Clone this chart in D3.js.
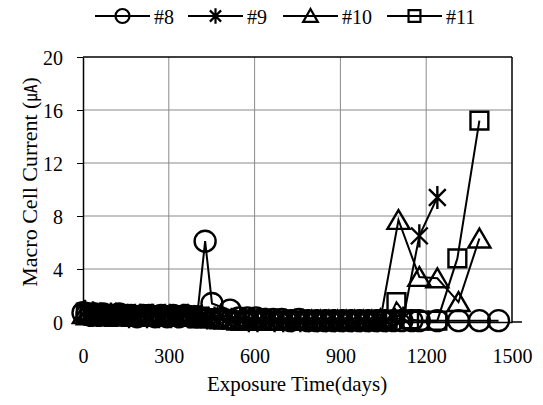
<!DOCTYPE html>
<html>
<head>
<meta charset="utf-8">
<script src="https://cdn.jsdelivr.net/npm/d3@7"></script>
<style>
  html, body { margin: 0; padding: 0; background: #fff; }
  svg { display: block; }
  svg text { font-family: "Liberation Serif", "Tinos", "Times New Roman", "DejaVu Serif", "Noto Serif", serif; fill: #000; }
</style>
</head>
<body>
<svg id="chart" width="543" height="405"></svg>
<script>
// ---------------- data ----------------
const xTicks = [0, 300, 600, 900, 1200, 1500];
const yTicks = [0, 4, 8, 12, 16, 20];
const seriesNames = ["#8", "#9", "#10", "#11"];

// [exposure day, macro cell current]
const s8 = [[0,0.7],[14,0.6],[28,0.5],[42,0.6],[56,0.5],[70,0.6],[84,0.5],[105,0.5],[126,0.6],[147,0.5],
  [168,0.5],[189,0.4],[210,0.5],[231,0.5],[252,0.4],[273,0.5],[294,0.4],[315,0.5],[336,0.4],[357,0.5],
  [378,0.4],[399,0.4],[427,6.1],[451,1.4],[514,0.9],[545,0.3],[575,0.3],[605,0.3],[635,0.2],[665,0.2],
  [695,0.2],[725,0.1],[755,0.2],[785,0.1],[815,0.1],[845,0.1],[875,0.1],[905,0.1],[935,0.1],[965,0.1],
  [995,0.1],[1025,0.1],[1055,0.1],[1085,0.1],[1115,0.1],[1150,0.1],[1176,0.1],[1239,0.1],[1313,0.1],
  [1386,0.1],[1453,0.1]];
const s9 = [[7,0.8],[21,0.6],[35,0.7],[49,0.5],[63,0.6],[77,0.5],[98,0.6],[119,0.5],[140,0.5],[161,0.4],
  [182,0.5],[203,0.5],[224,0.4],[245,0.5],[266,0.4],[287,0.5],[308,0.4],[329,0.4],[350,0.5],[371,0.4],
  [392,0.4],[413,0.4],[434,0.3],[460,0.3],[490,0.3],[520,0.2],[550,0.2],[580,0.1],[610,0.1],[640,0.2],
  [670,0.1],[700,0.1],[730,0.1],[760,0.1],[790,0.1],[820,0.1],[850,0.1],[880,0.1],[910,0.1],[940,0.1],
  [970,0.1],[1000,0.1],[1030,0.1],[1060,0.1],[1090,0.2],[1120,0.3],[1176,6.5],[1239,9.4]];
const s10 = [[3,0.6],[17,0.5],[31,0.6],[45,0.5],[59,0.6],[73,0.5],[94,0.5],[115,0.6],[136,0.5],[157,0.5],
  [178,0.4],[199,0.5],[220,0.4],[241,0.5],[262,0.4],[283,0.4],[304,0.5],[325,0.4],[346,0.4],[367,0.5],
  [388,0.4],[409,0.3],[440,0.3],[470,0.3],[500,0.2],[530,0.2],[560,0.1],[590,0.1],[620,0.1],[650,0.1],
  [680,0.1],[710,0.1],[740,0.1],[770,0.1],[800,0.1],[830,0.1],[860,0.1],[890,0.1],[920,0.1],[950,0.1],
  [980,0.1],[1010,0.1],[1040,0.2],[1103,7.7],[1176,3.4],[1239,3.3],[1313,1.5],[1386,6.3]];
const s11 = [[10,0.7],[24,0.6],[38,0.5],[52,0.6],[66,0.5],[80,0.5],[101,0.6],[122,0.5],[143,0.4],[164,0.5],
  [185,0.5],[206,0.4],[227,0.5],[248,0.4],[269,0.5],[290,0.4],[311,0.4],[332,0.5],[353,0.4],[374,0.4],
  [395,0.4],[420,0.3],[445,0.3],[475,0.2],[505,0.2],[535,0.1],[565,0.1],[595,0.2],[625,0.1],[655,0.1],
  [685,0.1],[715,0.1],[745,0.1],[775,0.1],[805,0.1],[835,0.1],[865,0.1],[895,0.1],[925,0.1],[955,0.1],
  [985,0.1],[1015,0.1],[1045,0.1],[1065,0.1],[1096,1.5],[1140,0.2],[1176,0.1],[1239,0.1],[1309,4.8],
  [1386,15.2]];
const seriesData = [s8, s9, s10, s11];
const markerTypes = ["circle", "asterisk", "triangle", "square"];

// ---------------- layout ----------------
const FONT = '"Liberation Serif", "Tinos", "Times New Roman", "DejaVu Serif", "Noto Serif", serif';
const svg = d3.select("#chart");
const x = d3.scaleLinear().domain([0, 1500]).range([83, 512]);
const y = d3.scaleLinear().domain([0, 20]).range([322, 57]);

function markerPath(type, s) {
  if (type === "circle") {
    return `M${s},0A${s},${s} 0 1,1 ${-s},0A${s},${s} 0 1,1 ${s},0Z`;
  }
  if (type === "square") {
    const h = s * 0.85;
    return `M${-h},${-h}H${h}V${h}H${-h}Z`;
  }
  if (type === "triangle") {
    const w = s * 1.05, ht = s * 0.85;
    return `M0,${-ht - 1}L${w},${ht}L${-w},${ht}Z`;
  }
  const a = s * 0.8;
  return `M${-a},${-a}L${a},${a}M${a},${-a}L${-a},${a}M0,${-s * 1.1}V${s * 1.1}`;
}

// gridlines
const grid = svg.append("g");
grid.selectAll("line.v").data(xTicks.filter(d => d > 0 && d < 1500)).join("line")
  .attr("x1", d => x(d)).attr("x2", d => x(d))
  .attr("y1", y(20)).attr("y2", y(0))
  .attr("stroke", "#8a8a8a").attr("stroke-width", 1);
grid.selectAll("line.h").data(yTicks.filter(d => d > 0 && d < 20)).join("line")
  .attr("x1", x(0)).attr("x2", x(1500))
  .attr("y1", d => y(d)).attr("y2", d => y(d))
  .attr("stroke", "#8a8a8a").attr("stroke-width", 1);

// series
const line = d3.line().x(d => x(d[0])).y(d => y(d[1]));
seriesData.forEach((data, i) => {
  const g = svg.append("g");
  g.append("path").datum(data).attr("d", line)
    .attr("fill", "none").attr("stroke", "#000").attr("stroke-width", 2);
  g.selectAll("path.m").data(data).join("path")
    .attr("transform", d => `translate(${x(d[0])},${y(d[1])})`)
    .attr("d", markerPath(markerTypes[i], 10.5))
    .attr("fill", "none").attr("stroke", "#000").attr("stroke-width", 2.4);
});

// axes & frame
const yAxis = d3.axisLeft(y).tickValues(yTicks).tickFormat(d3.format("d"))
  .tickSize(6).tickSizeOuter(0).tickPadding(14);
const gy = svg.append("g").attr("transform", `translate(${x(0)},0)`).call(yAxis)
  .attr("font-family", FONT).attr("font-size", 20);
gy.select(".domain").attr("stroke", "#000").attr("stroke-width", 1.5);
gy.selectAll(".tick line").attr("stroke", "#000").attr("stroke-width", 1);
gy.selectAll("text").attr("dy", "0.35em");

const xAxis = d3.axisBottom(x).tickValues(xTicks).tickFormat(d3.format("d"))
  .tickSize(0).tickSizeOuter(0).tickPadding(27);
const gx = svg.append("g").attr("transform", `translate(0,${y(0)})`).call(xAxis)
  .attr("font-family", FONT).attr("font-size", 20);
gx.select(".domain").attr("stroke", "#000").attr("stroke-width", 1.5);

svg.append("line").attr("x1", x(0)).attr("x2", x(1500)).attr("y1", y(20)).attr("y2", y(20))
  .attr("stroke", "#000").attr("stroke-width", 1.5);
svg.append("line").attr("x1", x(1500)).attr("x2", x(1500)).attr("y1", y(20)).attr("y2", y(0))
  .attr("stroke", "#000").attr("stroke-width", 1.5);
svg.append("line").attr("x1", x(1500)).attr("x2", x(1500) + 10).attr("y1", y(0)).attr("y2", y(0))
  .attr("stroke", "#000").attr("stroke-width", 1.5);

// axis titles
svg.append("text").attr("x", 297).attr("y", 391).attr("text-anchor", "middle")
  .attr("font-family", FONT).attr("font-size", 21).text("Exposure Time(days)");
const yt = svg.append("text").attr("transform", "translate(37,182) rotate(-90)").attr("text-anchor", "middle")
  .attr("font-family", FONT).attr("font-size", 22);
yt.append("tspan").text("Macro Cell Current (");
yt.append("tspan").attr("font-family", "Noto Sans CJK KR").attr("font-size", 17).text("㎂");
yt.append("tspan").text(")");

// legend
const legendX = [95, 188, 283, 387];
const legendY = 16;
seriesNames.forEach((name, i) => {
  const g = svg.append("g").attr("transform", `translate(${legendX[i]},${legendY})`);
  g.append("line").attr("x1", 0).attr("x2", 55).attr("y1", 0).attr("y2", 0)
    .attr("stroke", "#000").attr("stroke-width", 2);
  g.append("path").attr("transform", "translate(27.5,0)")
    .attr("d", markerPath(markerTypes[i], 7))
    .attr("fill", "none").attr("stroke", "#000").attr("stroke-width", 2.2);
  g.append("text").attr("x", 59).attr("y", 8).attr("font-family", FONT).attr("font-size", 20).text(name);
});
</script>
</body>
</html>
